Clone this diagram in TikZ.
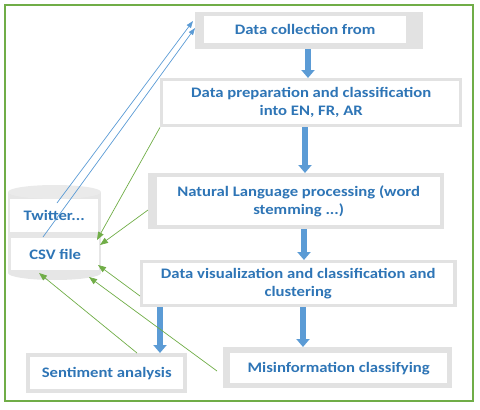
\documentclass[tikz,border=0pt]{standalone}
\usepackage{fontspec}
\setmainfont{Carlito}[FakeStretch=1.15]
\usetikzlibrary{arrows.meta}
\definecolor{txtblue}{HTML}{2E75B6}
\definecolor{arrblue}{HTML}{5B9BD5}
\definecolor{lgreen}{HTML}{70AD47}
\definecolor{frgray}{HTML}{E2E2E2}
\definecolor{cylgray}{HTML}{E6E6E6}
\begin{document}
\begin{tikzpicture}[x=1pt,y=-1pt,
  frame/.style={fill=frgray, anchor=north west, inner sep=0pt},
  panel/.style={fill=white, anchor=north west, inner sep=0pt, align=center, text=txtblue, font=\fontsize{14.5}{18}\selectfont\bfseries},
  flow/.style={draw=arrblue, line width=5.5pt, -{Triangle[width=13pt,length=8pt]}},
  link/.style={draw=arrblue, line width=0.7pt, -{Triangle[width=5pt,length=7pt]}},
  back/.style={draw=lgreen, line width=0.7pt, -{Triangle[width=6pt,length=8pt]}}]
\useasboundingbox (0,0) rectangle (480,410);
\draw[lgreen, line width=1.6pt] (5,5) rectangle (473,401);

% cylinder
\fill[cylgray] (8,192) rectangle (101,273);
\fill[cylgray] (54.5,273) ellipse [x radius=46.5, y radius=7];
\fill[cylgray!85!white] (54.5,192) ellipse [x radius=46.5, y radius=7];
\node[panel, minimum width=88pt, minimum height=33pt] (tw) at (10,199) {Twitter...};
\node[panel, minimum width=88pt, minimum height=32pt] (csv) at (11,238) {CSV file};

% boxes
\node[frame, minimum width=228pt, minimum height=37pt] (b1) at (195,12) {};
\node[panel, minimum width=202pt, minimum height=27pt] (t1) at (204,16) {Data collection from};
\node[frame, minimum width=302pt, minimum height=49pt] (b2) at (160,78) {};
\node[panel, minimum width=296pt, minimum height=43pt] (t2) at (163,81) {Data preparation and classification\\into EN, FR, AR};
\node[frame, minimum width=296pt, minimum height=56pt] (b3) at (148,173) {};
\node[panel, minimum width=283pt, minimum height=48pt] (t3) at (157,177) {Natural Language processing (word\\stemming ...)};
\node[frame, minimum width=317pt, minimum height=47pt] (b4) at (140,260) {};
\node[panel, minimum width=310pt, minimum height=41pt] (t4) at (143,263) {Data visualization and classification and\\clustering};
\node[frame, minimum width=229pt, minimum height=41pt] (b5) at (223,347) {};
\node[panel, minimum width=217pt, minimum height=30pt] (t5) at (230,353) {Misinformation classifying};
\node[frame, minimum width=161pt, minimum height=40pt] (b6) at (26,353) {};
\node[panel, minimum width=153pt, minimum height=32pt] (t6) at (30,357) {Sentiment analysis};

% thick flow arrows
\coordinate (ax1) at (308,0);
\coordinate (ax2) at (305,0);
\coordinate (ax3) at (304,0);
\coordinate (ax4) at (303,0);
\coordinate (ax5) at (160,0);
\draw[flow] (b1.south -| ax1) -- (b2.north -| ax1);
\draw[flow] (b2.south -| ax2) -- (b3.north -| ax2);
\draw[flow] (b3.south -| ax3) -- (b4.north -| ax3);
\draw[flow] (b4.south -| ax4) -- (b5.north -| ax4);
\draw[flow] (b4.south -| ax5) -- (b6.north -| ax5);

% thin blue links to data collection
\coordinate (l1s) at (57,203);
\coordinate (l1e) at (193,21);
\coordinate (l2s) at (43,237);
\coordinate (l2e) at (195,28);
\draw[link] (l1s) -- (l1e);
\draw[link] (l2s) -- (l2e);

% green links back to csv
\coordinate (g2s) at (148,210);
\coordinate (g3s) at (140,296);
\coordinate (g4s) at (217,371);
\coordinate (g5s) at (137,353);
\coordinate (g1e) at (97,240);
\coordinate (g2e) at (100,245);
\coordinate (g3e) at (98,265);
\coordinate (g4e) at (89,277);
\coordinate (g5e) at (39,273);
\draw[back] (b2.south west) -- (g1e);
\draw[back] (g2s) -- (g2e);
\draw[back] (g3s) -- (g3e);
\draw[back] (g4s) -- (g4e);
\draw[back] (g5s) -- (g5e);
\end{tikzpicture}
\end{document}
